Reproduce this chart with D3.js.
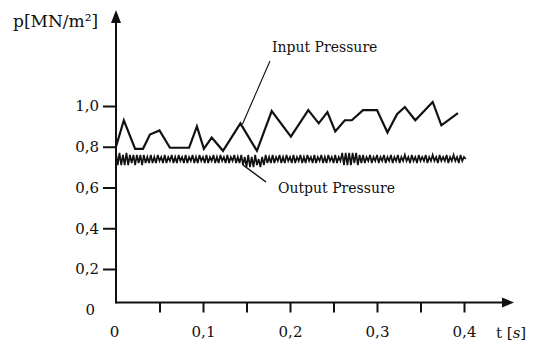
<!DOCTYPE html>
<html><head><meta charset="utf-8">
<script src="https://cdn.jsdelivr.net/npm/d3@7"></script>
<style>
html,body{margin:0;padding:0;background:#fff;}
svg{display:block;}
text{font-family:"DejaVu Serif","Liberation Serif",serif;fill:#111;}
</style></head>
<body><svg id="c" width="533" height="345"></svg>
<script>
// ---- data ----
const inputT = [0,0.009,0.022,0.031,0.039,0.050,0.062,0.084,0.093,0.101,0.110,0.123,0.143,0.162,0.179,0.201,0.221,0.233,0.243,0.252,0.263,0.271,0.284,0.300,0.312,0.323,0.332,0.344,0.364,0.374,0.393];
const inputP = [0.80,0.93,0.79,0.79,0.86,0.88,0.795,0.795,0.90,0.79,0.845,0.78,0.915,0.78,0.975,0.85,0.98,0.915,0.97,0.875,0.93,0.93,0.98,0.98,0.87,0.96,0.995,0.93,1.02,0.905,0.965];
const outputStep = 0.002;
const outputP = [
0.77,0.71,0.77,0.71,0.76,0.71,0.77,0.71,0.76,0.72,
0.76,0.71,0.76,0.72,0.76,0.71,0.76,0.72,0.75,0.72,
0.76,0.72,0.75,0.72,0.76,0.73,0.75,0.72,0.76,0.72,
0.75,0.73,0.76,0.72,0.75,0.72,0.76,0.73,0.75,0.72,
0.76,0.72,0.75,0.73,0.76,0.72,0.75,0.72,0.76,0.73,
0.75,0.72,0.76,0.72,0.75,0.73,0.76,0.72,0.75,0.72,
0.76,0.73,0.75,0.72,0.76,0.72,0.75,0.73,0.76,0.72,
0.75,0.72,0.76,0.71,0.75,0.70,0.76,0.70,0.75,0.70,
0.76,0.71,0.74,0.70,0.75,0.71,0.76,0.72,0.75,0.72,
0.76,0.72,0.75,0.73,0.76,0.72,0.75,0.72,0.76,0.73,
0.75,0.72,0.76,0.72,0.75,0.73,0.76,0.72,0.75,0.72,
0.76,0.73,0.75,0.72,0.76,0.72,0.75,0.73,0.76,0.72,
0.75,0.72,0.76,0.73,0.75,0.72,0.76,0.72,0.75,0.73,
0.77,0.71,0.77,0.71,0.77,0.71,0.77,0.72,0.77,0.71,
0.76,0.72,0.76,0.72,0.75,0.73,0.76,0.72,0.75,0.73,
0.76,0.72,0.75,0.73,0.76,0.72,0.75,0.73,0.76,0.72,
0.75,0.73,0.76,0.72,0.75,0.73,0.76,0.73,0.75,0.72,
0.76,0.73,0.75,0.72,0.76,0.73,0.75,0.73,0.76,0.72,
0.75,0.73,0.76,0.73,0.75,0.72,0.76,0.73,0.75,0.73,
0.76,0.72,0.75,0.73,0.76,0.73,0.75,0.72,0.76,0.73,
0.75,0.74];
const xTicks = [0,0.05,0.1,0.15,0.2,0.25,0.3,0.35,0.4];
const xTickLabels = ["0","","0,1","","0,2","","0,3","","0,4"];
const yTicks = [0,0.2,0.4,0.6,0.8,1.0];
const yTickLabels = ["0","0,2","0,4","0,6","0,8","1,0"];
const yTitle = "p[MN/m²]";
const seriesNames = ["Input Pressure","Output Pressure"];

// ---- layout ----
const svg = d3.select("#c");
const x = d3.scaleLinear().domain([0,0.4]).range([116,464]);
const y = d3.scaleLinear().domain([0,1]).range([309.75,106]);
const axisY = 302.5, xEnd = 514, yTop = 10;

// output series
const outData = outputP.map((p,i)=>({t:i*outputStep,p}));
svg.append("path").datum(outData)
  .attr("d", d3.line().x(d=>x(d.t)).y(d=>y(d.p)))
  .attr("fill","none").attr("stroke","#111").attr("stroke-width",1.7);

// input series
const inData = inputT.map((t,i)=>({t,p:inputP[i]}));
svg.append("path").datum(inData)
  .attr("d", d3.line().x(d=>x(d.t)).y(d=>y(d.p)))
  .attr("fill","none").attr("stroke","#111").attr("stroke-width",2.2).attr("stroke-linejoin","miter");

// axes lines
svg.append("line").attr("x1",x(0)).attr("x2",xEnd-8).attr("y1",axisY).attr("y2",axisY)
  .attr("stroke","#111").attr("stroke-width",2);
svg.append("line").attr("x1",x(0)).attr("x2",x(0)).attr("y1",axisY+1).attr("y2",yTop+8)
  .attr("stroke","#111").attr("stroke-width",2);
svg.append("path").attr("d",`M${xEnd},${axisY} L${xEnd-12},${axisY-5} L${xEnd-12},${axisY+5} Z`).attr("fill","#111");
svg.append("path").attr("d",`M${x(0)},${yTop} L${x(0)-5},${yTop+13} L${x(0)+5},${yTop+13} Z`).attr("fill","#111");

// x axis ticks
const xa = d3.axisBottom(x).tickValues(xTicks).tickSize(10).tickPadding(14)
  .tickFormat((d,i)=>xTickLabels[i]);
const gx = svg.append("g").attr("transform",`translate(0,${axisY})`).call(xa);
gx.select(".domain").remove();
gx.selectAll(".tick line").attr("stroke","#111").attr("stroke-width",2)
  .attr("display",(d,i)=>i===0?"none":null);
gx.selectAll(".tick text").attr("font-size",15).attr("font-family","DejaVu Serif").attr("fill","#111").attr("dx",(d,i)=>i===0?-2:0);

// y axis ticks
const ya = d3.axisLeft(y).tickValues(yTicks).tickSize(13).tickPadding(4)
  .tickFormat((d,i)=>yTickLabels[i]);
const gy = svg.append("g").attr("transform",`translate(${x(0)},0)`).call(ya);
gy.select(".domain").remove();
gy.selectAll(".tick line").attr("stroke","#111").attr("stroke-width",2)
  .attr("display",(d,i)=>i===0?"none":null);
gy.selectAll(".tick text").attr("font-size",15).attr("font-family","DejaVu Serif").attr("fill","#111")
  .attr("dx",(d,i)=>i===0?-4:0);

// titles
svg.append("text").attr("x",13).attr("y",27).attr("font-size",17).text(yTitle);
const tt = svg.append("text").attr("x",496).attr("y",338).attr("font-size",15);
tt.append("tspan").text("t [");
tt.append("tspan").attr("font-style","italic").text("s");
tt.append("tspan").text("]");

// annotations
svg.append("text").attr("x",272).attr("y",52).attr("font-size",14).text(seriesNames[0]);
svg.append("line").attr("x1",270).attr("y1",61).attr("x2",x(inputT[12])+2).attr("y2",y(inputP[12])+1)
  .attr("stroke","#111").attr("stroke-width",1.1);
svg.append("text").attr("x",278).attr("y",193).attr("font-size",14).text(seriesNames[1]);
svg.append("line").attr("x1",243).attr("y1",165).attr("x2",266).attr("y2",182)
  .attr("stroke","#111").attr("stroke-width",1.5);
</script></body></html>
